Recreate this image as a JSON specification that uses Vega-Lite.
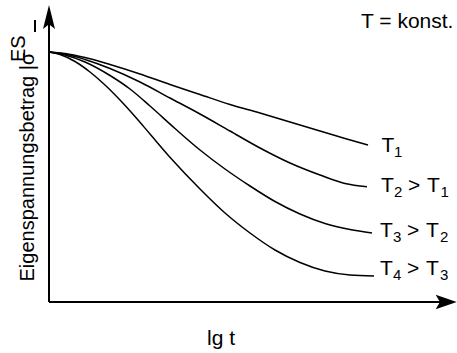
{
  "$schema": "https://vega.github.io/schema/vega-lite/v6.json",
  "width": 408,
  "height": 297,
  "autosize": {"type": "none"},
  "padding": {"left": 49, "top": 5, "right": 0, "bottom": 51},
  "background": "white",
  "config": {"view": {"stroke": null}, "font": "Liberation Sans"},
  "datasets": {
    "curves": [
      {"s": "T1", "x": 0, "y": 250}, {"s": "T1", "x": 16, "y": 248.5}, {"s": "T1", "x": 36, "y": 244.5}, {"s": "T1", "x": 61, "y": 237.5}, {"s": "T1", "x": 91, "y": 228}, {"s": "T1", "x": 121, "y": 217.5}, {"s": "T1", "x": 151, "y": 207.5}, {"s": "T1", "x": 181, "y": 197.5}, {"s": "T1", "x": 211, "y": 189}, {"s": "T1", "x": 241, "y": 180}, {"s": "T1", "x": 271, "y": 171}, {"s": "T1", "x": 296, "y": 163.5}, {"s": "T1", "x": 319, "y": 157},
      {"s": "T2", "x": 0, "y": 250}, {"s": "T2", "x": 16, "y": 248}, {"s": "T2", "x": 36, "y": 242.5}, {"s": "T2", "x": 61, "y": 233.5}, {"s": "T2", "x": 91, "y": 220}, {"s": "T2", "x": 121, "y": 204}, {"s": "T2", "x": 151, "y": 188}, {"s": "T2", "x": 181, "y": 171}, {"s": "T2", "x": 211, "y": 154}, {"s": "T2", "x": 241, "y": 139}, {"s": "T2", "x": 271, "y": 127}, {"s": "T2", "x": 296, "y": 118.5}, {"s": "T2", "x": 318, "y": 115.3},
      {"s": "T3", "x": 0, "y": 250}, {"s": "T3", "x": 16, "y": 247}, {"s": "T3", "x": 36, "y": 240}, {"s": "T3", "x": 61, "y": 226.5}, {"s": "T3", "x": 81, "y": 213}, {"s": "T3", "x": 101, "y": 196}, {"s": "T3", "x": 126, "y": 173.5}, {"s": "T3", "x": 151, "y": 152}, {"s": "T3", "x": 176, "y": 133}, {"s": "T3", "x": 201, "y": 116}, {"s": "T3", "x": 226, "y": 100.5}, {"s": "T3", "x": 251, "y": 88}, {"s": "T3", "x": 276, "y": 78.5}, {"s": "T3", "x": 301, "y": 72.5}, {"s": "T3", "x": 323, "y": 69},
      {"s": "T4", "x": 0, "y": 250}, {"s": "T4", "x": 11, "y": 247.5}, {"s": "T4", "x": 26, "y": 240.5}, {"s": "T4", "x": 41, "y": 230}, {"s": "T4", "x": 56, "y": 217}, {"s": "T4", "x": 71, "y": 202}, {"s": "T4", "x": 86, "y": 185.5}, {"s": "T4", "x": 101, "y": 168}, {"s": "T4", "x": 123, "y": 142.5}, {"s": "T4", "x": 151, "y": 113}, {"s": "T4", "x": 176, "y": 89}, {"s": "T4", "x": 201, "y": 69}, {"s": "T4", "x": 226, "y": 52}, {"s": "T4", "x": 251, "y": 39.5}, {"s": "T4", "x": 276, "y": 31}, {"s": "T4", "x": 301, "y": 27}, {"s": "T4", "x": 325, "y": 26}
    ],
    "axes": [
      {"dir": "v", "x": 0, "x2": 0, "y": 0, "y2": 280, "w": "axis"},
      {"dir": "h", "x": 0, "x2": 392, "y": 0, "y2": 0, "w": "axis"},
      {"dir": "v", "x": -14, "x2": -14, "y": 270, "y2": 282, "w": "bar"}
    ],
    "arrows": [
      {"dir": "v", "x": 0, "y": 285},
      {"dir": "h", "x": 397.2, "y": 0}
    ],
    "labels": [
      {"kind": "main", "text": "T", "x": 332.5, "y": 150},
      {"kind": "sub", "text": "1", "x": 345, "y": 150},
      {"kind": "main", "text": "T", "x": 332, "y": 110},
      {"kind": "sub", "text": "2", "x": 345, "y": 110},
      {"kind": "main", "text": ">", "x": 359, "y": 110},
      {"kind": "main", "text": "T", "x": 378, "y": 110},
      {"kind": "sub", "text": "1", "x": 391.5, "y": 110},
      {"kind": "main", "text": "T", "x": 331, "y": 65},
      {"kind": "sub", "text": "3", "x": 344, "y": 65},
      {"kind": "main", "text": ">", "x": 358, "y": 65},
      {"kind": "main", "text": "T", "x": 377, "y": 65},
      {"kind": "sub", "text": "2", "x": 391, "y": 65},
      {"kind": "main", "text": "T", "x": 331, "y": 27},
      {"kind": "sub", "text": "4", "x": 344, "y": 27},
      {"kind": "main", "text": ">", "x": 358, "y": 27},
      {"kind": "main", "text": "T", "x": 377, "y": 27},
      {"kind": "sub", "text": "3", "x": 391, "y": 27},
      {"kind": "main", "text": "T = konst.", "x": 312, "y": 273.7},
      {"kind": "main", "text": "lg t", "x": 158, "y": -43},
      {"kind": "ytitle", "text": "Eigenspannungsbetrag |σ", "x": -15.5, "y": 20.5},
      {"kind": "ysup", "text": "ES", "x": -24, "y": 240}
    ]
  },
  "encoding": {
    "x": {"field": "x", "type": "quantitative", "scale": {"domain": [0, 408], "nice": false, "zero": false}, "axis": null},
    "y": {"field": "y", "type": "quantitative", "scale": {"domain": [0, 297], "nice": false, "zero": false}, "axis": null}
  },
  "layer": [
    {
      "data": {"name": "axes"},
      "transform": [{"filter": "datum.w === 'axis'"}],
      "mark": {"type": "rule", "color": "black", "strokeWidth": 2},
      "encoding": {"x2": {"field": "x2"}, "y2": {"field": "y2"}}
    },
    {
      "data": {"name": "axes"},
      "transform": [{"filter": "datum.w === 'bar'"}],
      "mark": {"type": "rule", "color": "black", "strokeWidth": 2},
      "encoding": {"x2": {"field": "x2"}, "y2": {"field": "y2"}}
    },
    {
      "data": {"name": "arrows"},
      "transform": [{"filter": "datum.dir === 'v'"}],
      "mark": {"type": "point", "filled": true, "color": "black", "opacity": 1, "shape": "M0,-1L0.5,1L0,0.6L-0.5,1Z", "size": 576, "strokeWidth": 0}
    },
    {
      "data": {"name": "arrows"},
      "transform": [{"filter": "datum.dir === 'h'"}],
      "mark": {"type": "point", "filled": true, "color": "black", "opacity": 1, "shape": "M1,0L-1,0.7L-0.6,0L-1,-0.7Z", "size": 441, "strokeWidth": 0}
    },
    {
      "data": {"name": "curves"},
      "mark": {"type": "line", "color": "black", "strokeWidth": 1.5, "interpolate": "monotone"},
      "encoding": {"detail": {"field": "s"}}
    },
    {
      "data": {"name": "labels"},
      "transform": [{"filter": "datum.kind === 'main'"}],
      "mark": {"type": "text", "align": "left", "baseline": "alphabetic", "fontSize": 21, "fill": "black"},
      "encoding": {"text": {"field": "text"}}
    },
    {
      "data": {"name": "labels"},
      "transform": [{"filter": "datum.kind === 'sub'"}],
      "mark": {"type": "text", "align": "left", "baseline": "alphabetic", "fontSize": 15, "dy": 5, "fill": "black"},
      "encoding": {"text": {"field": "text"}}
    },
    {
      "data": {"name": "labels"},
      "transform": [{"filter": "datum.kind === 'ytitle' || datum.kind === 'ysup'"}],
      "mark": {"type": "text", "align": "left", "baseline": "alphabetic", "fontSize": 20, "angle": 270, "fill": "black"},
      "encoding": {"text": {"field": "text"}}
    }
  ]
}
